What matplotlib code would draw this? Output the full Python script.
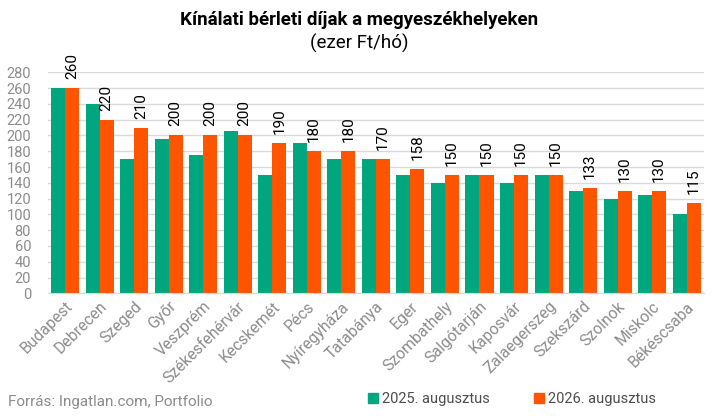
import numpy as np
import matplotlib
matplotlib.use("Agg")
import matplotlib.pyplot as plt
from matplotlib.patches import Patch

plt.rcParams['font.family'] = ['Roboto', 'DejaVu Sans']

cities = ["Budapest", "Debrecen", "Szeged", "Győr", "Veszprém", "Székesfehérvár",
          "Kecskemét", "Pécs", "Nyíregyháza", "Tatabánya", "Eger", "Szombathely",
          "Salgótarján", "Kaposvár", "Zalaegerszeg", "Szekszárd", "Szolnok",
          "Miskolc", "Békéscsaba"]
v2025 = [260, 240, 170, 195, 175, 205, 150, 190, 170, 170, 150, 140, 150, 140,
         150, 130, 120, 125, 100]
v2026 = [260, 220, 210, 200, 200, 200, 190, 180, 180, 170, 158, 150, 150, 150,
         150, 133, 130, 130, 115]
yticks = list(range(0, 281, 20))

GREEN = "#00a67e"
ORANGE = "#ff5500"
GRAY = "#8c8c8c"

fig = plt.figure(figsize=(7.19, 4.16), dpi=100)
ax = fig.add_axes([47.75 / 719, 122.7 / 416, (704 - 47.75) / 719, (293.3 - 72.3) / 416])

x = np.arange(len(cities))
w = 0.406
ax.bar(x - w / 2, v2025, w, color=GREEN, zorder=2)
ax.bar(x + w / 2, v2026, w, color=ORANGE, zorder=2)
for xi, v in zip(x, v2026):
    ax.annotate(str(v), (xi + w / 2, v), xytext=(0, 6.5), textcoords="offset points",
                rotation=90, ha="center", va="bottom", fontsize=11, color="black",
                annotation_clip=False)

ax.set_xlim(-0.5, len(cities) - 0.5)
ax.set_ylim(0, 280)
ax.set_yticks(yticks)
ax.yaxis.grid(True, color="#d9d9d9", lw=1, zorder=0)
ax.set_axisbelow(True)
for s in ["top", "right", "left"]:
    ax.spines[s].set_visible(False)
ax.spines["bottom"].set_color("#d9d9d9")
ax.tick_params(axis="y", length=0, labelsize=10.5, labelcolor=GRAY, pad=12)
ax.tick_params(axis="x", length=0, labelsize=11.3, labelcolor=GRAY, pad=4)
ax.set_xticks(x)
ax.set_xticklabels(cities, rotation=45, ha="right", rotation_mode="anchor")

fig.text(0.5, 1 - 20 / 416, "Kínálati bérleti díjak a megyeszékhelyeken",
         ha="center", va="center", fontsize=13.5, fontweight="bold")
fig.text(0.5, 1 - 43 / 416, "(ezer Ft/hó)", ha="center", va="center", fontsize=13.5)
fig.text(8 / 719, 1 - 402 / 416, "Forrás: Ingatlan.com, Portfolio",
         ha="left", va="center", fontsize=11, color=GRAY)

handles = [Patch(color=GREEN, label="2025. augusztus"),
           Patch(color=ORANGE, label="2026. augusztus")]
fig.legend(handles=handles, loc="center", bbox_to_anchor=(512 / 719, 1 - 399 / 416),
           ncol=2, frameon=False, fontsize=10.5, handlelength=0.7, handleheight=0.7,
           handletextpad=0.3, columnspacing=3.0, labelcolor="#4d4d4d")

fig.savefig("out.png", dpi=100)
